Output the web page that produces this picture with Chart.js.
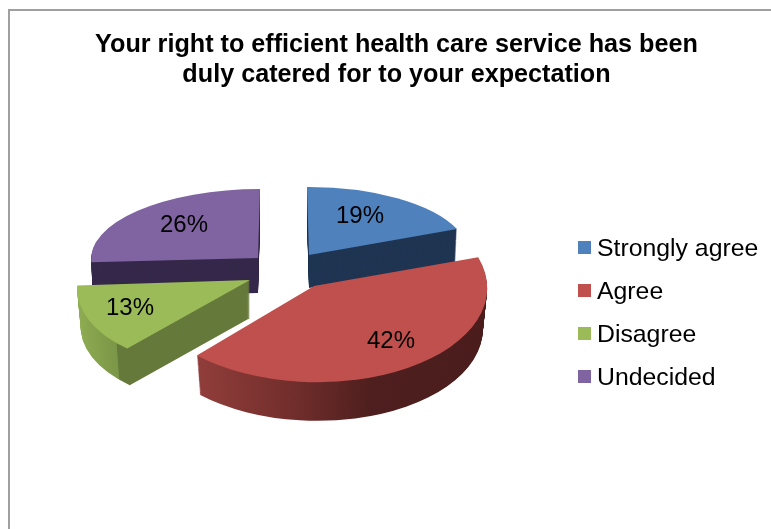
<!DOCTYPE html>
<html>
<head>
<meta charset="utf-8">
<title>Health care service pie</title>
<script src="https://cdn.jsdelivr.net/npm/chart.js@4"></script>
<style>
html, body { margin: 0; padding: 0; background: #fff; overflow: hidden; }
#frame { position: absolute; left: 8px; top: 9px; width: 763px; height: 520px; border-left: 2px solid #a0a0a0; border-top: 2px solid #a0a0a0; }
canvas { position: absolute; left: 0; top: 0; }
</style>
</head>
<body>
<div id="frame"></div>
<canvas id="pie" width="771" height="529"></canvas>
<script>
const categories = ['Strongly agree', 'Agree', 'Disagree', 'Undecided'];
const percentValues = [19, 42, 13, 26];
const titleLines = ['Your right to efficient health care service has been', 'duly catered for to your expectation'];

const topColors = ['#4f81bd', '#c0504d', '#9bbb59', '#8064a2'];
const FONT = '"Liberation Sans", Arial, sans-serif';

// fake 3D: every slice gets its own affine projection
// apex = tip of the slice, m = [xx, yx, xy, yy] for a unit circle
const slices = [
  { apex: [309, 255], m: [160, -1, 2, 68], depth: 33, shrink: 0.99, side: [[0, '#1f3552']], label: [360, 216] },
  { apex: [314, 286], m: [173, 7, -9, 96], depth: 41, shrink: 0.975,
    side: [[194, '#943f3c'], [300, '#722e2c'], [380, '#4e1f1e'], [490, '#4a1d1c']], label: [391, 341] },
  { apex: [250, 280], m: [172, 0, -17, 89], depth: 38, shrink: 0.98,
    side: [[78, '#8fae52'], [128, '#7b9647'], [129, '#65793a'], [250, '#65793a']], label: [130, 308] },
  { apex: [258, 258], m: [167, 0, -2, 69], depth: 35, shrink: 0.99, side: [[0, '#35284a']], label: [184, 225] }
];
const drawOrder = [3, 0, 2, 1];

function sideFill(ctx, arc, s) {
  if (s.side.length == 1) return s.side[0][1];
  const R = arc.outerRadius;
  const g = ctx.createLinearGradient(arc.x - R, 0, arc.x + R, 0);
  s.side.forEach(function (stop) {
    let t = ((stop[0] - s.apex[0]) / s.m[0] + 1) / 2;
    g.addColorStop(Math.max(0, Math.min(1, t)), stop[1]);
  });
  return g;
}

function drawLayer(ctx, arc, s, drop, scale, fill) {
  const R = arc.outerRadius;
  const k = scale / R;
  ctx.save();
  ctx.transform(s.m[0] * k, s.m[1] * k, s.m[2] * k, s.m[3] * k, s.apex[0], s.apex[1] + drop);
  ctx.translate(-arc.x, -arc.y);
  const keep = arc.options;
  const opts = Object.create(keep);
  Object.defineProperty(opts, 'backgroundColor', { value: fill });
  arc.options = opts;
  arc.draw(ctx);
  arc.options = keep;
  ctx.restore();
}

const pie3d = {
  id: 'pie3d',
  beforeDatasetsDraw(chart) {
    const ctx = chart.ctx;
    const arcs = chart.getDatasetMeta(0).data;
    drawOrder.forEach(function (i) {
      const s = slices[i];
      const fill = sideFill(ctx, arcs[i], s);
      for (let d = s.depth; d > 0; d--) {
        drawLayer(ctx, arcs[i], s, d, 1 - (1 - s.shrink) * d / s.depth, fill);
      }
      drawLayer(ctx, arcs[i], s, 0, 1, topColors[i]);
    });
    return false;
  },
  // afterDatasetsDraw does not fire once the draw above is cancelled
  afterDraw(chart) {
    const ctx = chart.ctx;
    const data = chart.data.datasets[0].data;
    ctx.save();
    ctx.fillStyle = '#000';
    ctx.font = '24px ' + FONT;
    ctx.textAlign = 'center';
    ctx.textBaseline = 'middle';
    data.forEach(function (v, i) {
      ctx.fillText(v + '%', slices[i].label[0], slices[i].label[1]);
    });
    // legend, the built in one keeps too wide a gap after the swatch
    ctx.font = '24.8px ' + FONT;
    ctx.textAlign = 'left';
    chart.data.labels.forEach(function (name, i) {
      const y = 241 + i * 43;
      ctx.fillStyle = topColors[i];
      ctx.fillRect(578, y, 13, 13);
      ctx.fillStyle = '#000';
      ctx.fillText(name, 597, y + 8);
    });
    ctx.restore();
  }
};

new Chart(document.getElementById('pie'), {
  type: 'pie',
  data: {
    labels: categories,
    datasets: [{ data: percentValues, backgroundColor: topColors, borderWidth: 0 }]
  },
  options: {
    responsive: false,
    animation: false,
    layout: { padding: { left: 22 } },
    plugins: {
      legend: { display: false },
      tooltip: { enabled: false },
      title: {
        display: true,
        text: titleLines,
        color: '#000',
        font: { family: FONT, size: 25.2, weight: 'bold', lineHeight: 1.19 },
        padding: { top: 30, bottom: 10 }
      }
    }
  },
  plugins: [pie3d]
});
</script>
</body>
</html>
